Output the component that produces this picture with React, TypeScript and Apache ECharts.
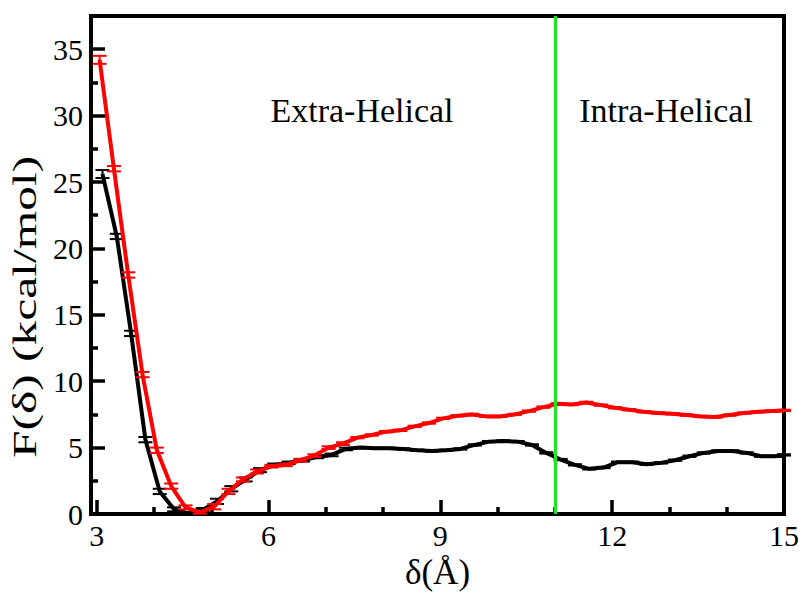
import React, { useEffect, useRef } from "react";
import * as echarts from "echarts";

// δ (Å) and F(δ) (kcal/mol), black profile
const deltaBlack = [3.1, 3.35, 3.6, 3.85, 4.1, 4.35, 4.6, 4.85, 5.1, 5.35, 5.6, 5.85, 6.1, 6.35, 6.6, 6.85, 7.1, 7.35, 7.6, 7.85, 8.1, 8.35, 8.6, 8.85, 9.1, 9.35, 9.6, 9.85, 10.1, 10.35, 10.6, 10.85, 11.1, 11.35, 11.6, 11.85, 12.1, 12.35, 12.6, 12.85, 13.1, 13.35, 13.6, 13.85, 14.1, 14.35, 14.6, 14.85, 15.0];
const fBlack = [25.6, 20.9, 13.6, 5.6, 1.7, 0.35, 0.05, 0.3, 0.95, 1.9, 2.6, 3.3, 3.7, 3.85, 4.05, 4.3, 4.45, 4.9, 5.0, 4.95, 4.95, 4.9, 4.8, 4.75, 4.8, 4.9, 5.2, 5.45, 5.5, 5.45, 5.2, 4.6, 4.1, 3.7, 3.4, 3.5, 3.9, 3.9, 3.75, 3.85, 4.05, 4.35, 4.6, 4.75, 4.75, 4.6, 4.35, 4.35, 4.45];
const errBlack = [0.3, 0.2, 0.2, 0.2, 0.2, 0.15, 0.1, 0.15, 0.2, 0.2, 0.15, 0.15, 0.1, 0.1, 0.1, 0.1, 0.1, 0.1, 0.05, 0.05, 0.05, 0.05, 0.05, 0.05, 0.05, 0.05, 0.05, 0.05, 0.05, 0.05, 0.05, 0.05, 0.05, 0.05, 0.05, 0.05, 0.05, 0.05, 0.05, 0.05, 0.05, 0.05, 0.05, 0.05, 0.05, 0.05, 0.05, 0.05, 0.05];

// red profile
const deltaRed = [3.05, 3.3, 3.55, 3.8, 4.05, 4.3, 4.55, 4.8, 5.05, 5.3, 5.55, 5.8, 6.05, 6.3, 6.55, 6.8, 7.05, 7.3, 7.55, 7.8, 8.05, 8.3, 8.55, 8.8, 9.05, 9.3, 9.55, 9.8, 10.05, 10.3, 10.55, 10.8, 11.05, 11.3, 11.55, 11.8, 12.05, 12.3, 12.55, 12.8, 13.05, 13.3, 13.55, 13.8, 14.05, 14.3, 14.55, 14.8, 15.0];
const fRed = [34.2, 26.0, 18.0, 10.5, 4.8, 2.1, 0.5, 0.12, 0.55, 1.7, 2.6, 3.2, 3.6, 3.7, 4.05, 4.4, 5.0, 5.3, 5.75, 5.95, 6.2, 6.3, 6.6, 6.85, 7.2, 7.4, 7.5, 7.35, 7.35, 7.5, 7.75, 8.05, 8.3, 8.25, 8.4, 8.2, 8.0, 7.85, 7.7, 7.6, 7.55, 7.45, 7.35, 7.3, 7.45, 7.6, 7.7, 7.75, 7.8];
const errRed = [0.3, 0.2, 0.2, 0.2, 0.2, 0.2, 0.15, 0.1, 0.2, 0.2, 0.15, 0.15, 0.1, 0.1, 0.1, 0.1, 0.1, 0.1, 0.05, 0.05, 0.05, 0.05, 0.05, 0.05, 0.05, 0.05, 0.05, 0.05, 0.05, 0.05, 0.05, 0.05, 0.05, 0.05, 0.05, 0.05, 0.05, 0.05, 0.05, 0.05, 0.05, 0.05, 0.05, 0.05, 0.05, 0.05, 0.05, 0.05, 0.05];

const xMajorTicks = [3, 6, 9, 12, 15];
const xMinorTicks = [4, 5, 7, 8, 10, 11, 13, 14];
const yMajorTicks = [0, 5, 10, 15, 20, 25, 30, 35];
const yMinorTicks = [2.5, 7.5, 12.5, 17.5, 22.5, 27.5, 32.5];
const boundaryDelta = 11;
const regionLabels = ["Extra-Helical", "Intra-Helical"];

const FONT = "Liberation Serif";

function errorBarSeries(xs: number[], ys: number[], es: number[], color: string) {
  return {
    type: "custom",
    xAxisIndex: 0,
    yAxisIndex: 0,
    z: 3,
    silent: true,
    data: xs.map((x, i) => [x, ys[i], es[i]]),
    encode: { x: 0, y: 1 },
    renderItem: (params: any, api: any) => {
      const x = api.value(0);
      const y = api.value(1);
      const e = api.value(2);
      const top = api.coord([x, y + e]);
      const bot = api.coord([x, Math.max(0, y - e)]);
      const hw = 7;
      const st = { stroke: color, lineWidth: 2 };
      return {
        type: "group",
        children: [
          { type: "line", shape: { x1: top[0], y1: top[1], x2: bot[0], y2: bot[1] }, style: st },
          { type: "line", shape: { x1: top[0] - hw, y1: top[1], x2: top[0] + hw, y2: top[1] }, style: st },
          { type: "line", shape: { x1: bot[0] - hw, y1: bot[1], x2: bot[0] + hw, y2: bot[1] }, style: st },
        ],
      };
    },
  };
}

export default function App() {
  const ref = useRef<HTMLDivElement>(null);
  useEffect(() => {
    if (!ref.current) return;
    const chart = echarts.init(ref.current, null, { renderer: "svg" });
    const tickLabel = { color: "#000", fontSize: 30, fontFamily: FONT };
    chart.setOption({
      animation: false,
      backgroundColor: "#fff",
      textStyle: { fontFamily: FONT },
      grid: { left: 91, top: 16, right: 20, bottom: 80, show: true, borderColor: "#000", borderWidth: 4, backgroundColor: "transparent" },
      xAxis: [
        {
          type: "value", min: 2.9, max: 15,
          axisLine: { show: false },
          splitLine: { show: false },
          axisTick: { show: true, inside: true, length: 14, customValues: xMajorTicks, lineStyle: { color: "#000", width: 3.5 } },
          axisLabel: { ...tickLabel, margin: 6, customValues: xMajorTicks },
          name: "δ(Å)", nameLocation: "middle", nameGap: 41,
          nameTextStyle: { color: "#000", fontSize: 35, fontFamily: FONT },
        },
        {
          type: "value", min: 2.9, max: 15, position: "bottom",
          axisLine: { show: false },
          splitLine: { show: false },
          axisLabel: { show: false },
          axisTick: { show: true, inside: true, length: 7, customValues: xMinorTicks, lineStyle: { color: "#000", width: 3.5 } },
        },
      ],
      yAxis: [
        {
          type: "value", min: 0, max: 37.5,
          axisLine: { show: false },
          splitLine: { show: false },
          axisTick: { show: true, inside: true, length: 14, customValues: yMajorTicks, lineStyle: { color: "#000", width: 3.5 } },
          axisLabel: { ...tickLabel, margin: 8, customValues: yMajorTicks },
        },
        {
          type: "value", min: 0, max: 37.5, position: "left",
          axisLine: { show: false },
          splitLine: { show: false },
          axisLabel: { show: false },
          axisTick: { show: true, inside: true, length: 7, customValues: yMinorTicks, lineStyle: { color: "#000", width: 3.5 } },
        },
      ],
      graphic: [
        {
          type: "text", x: 25, y: 307, rotation: Math.PI / 2, scaleX: 1.5, scaleY: 1,
          style: { text: "F(δ) (kcal/mol)", fill: "#000", fontSize: 33, fontFamily: FONT, align: "center", verticalAlign: "middle" },
        },
        {
          type: "text", x: 362, y: 110,
          style: { text: regionLabels[0], fill: "#000", fontSize: 34, fontFamily: FONT, align: "center", verticalAlign: "middle" },
        },
        {
          type: "text", x: 666, y: 110,
          style: { text: regionLabels[1], fill: "#000", fontSize: 34, fontFamily: FONT, align: "center", verticalAlign: "middle" },
        },
      ],
      series: [
        {
          type: "line",
          data: [],
          z: 1,
          markLine: {
            silent: true, symbol: "none", label: { show: false },
            lineStyle: { color: "#1ee61e", width: 3, type: "solid" },
            data: [{ xAxis: boundaryDelta }],
          },
        },
        {
          type: "line", name: "black", z: 2,
          data: deltaBlack.map((x, i) => [x, fBlack[i]]),
          showSymbol: false, symbol: "none",
          lineStyle: { color: "#000", width: 4 },
        },
        errorBarSeries(deltaBlack, fBlack, errBlack, "#000"),
        {
          type: "line", name: "red", z: 4,
          data: deltaRed.map((x, i) => [x, fRed[i]]),
          showSymbol: false, symbol: "none",
          lineStyle: { color: "#ff0000", width: 4 },
        },
        errorBarSeries(deltaRed, fRed, errRed, "#ff0000"),
      ],
    });
    return () => chart.dispose();
  }, []);
  return <div ref={ref} style={{ width: 804, height: 595, position: "absolute", left: 0, top: 0 }} />;
}
